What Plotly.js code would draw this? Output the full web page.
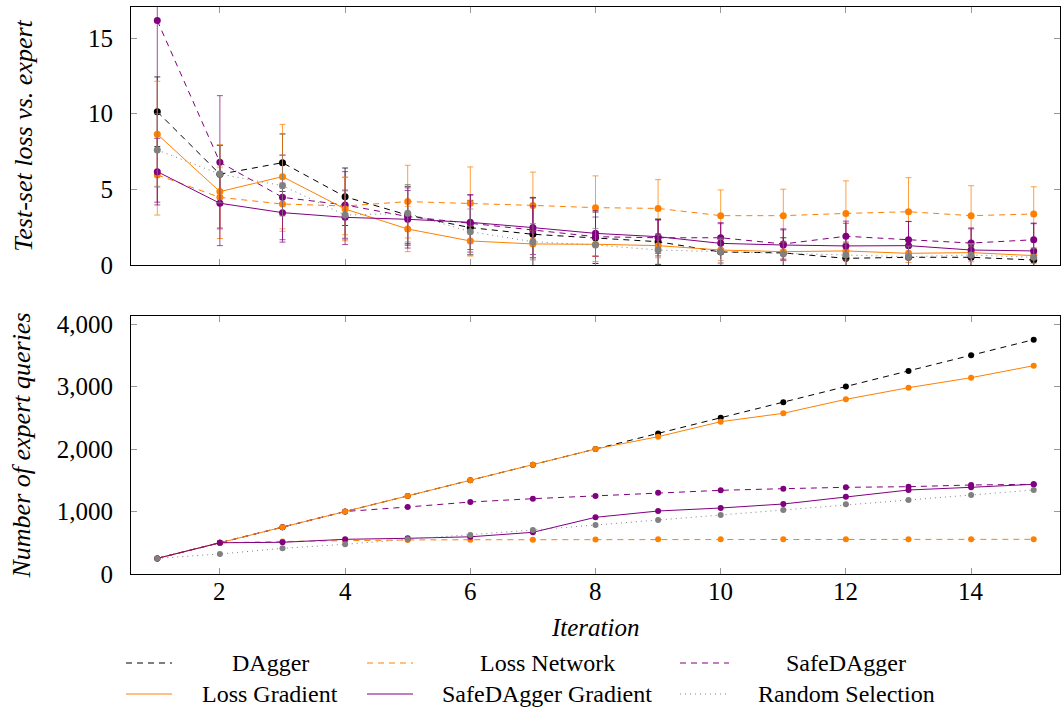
<!DOCTYPE html>
<html>
<head>
<meta charset="utf-8">
<script src="https://cdn.plot.ly/plotly-3.0.1.min.js"></script>
<style>html,body{margin:0;padding:0;background:#fff;}#chart{width:1061px;height:711px;}</style>
</head>
<body>
<div id="chart"></div>
<script>
// ---------- data ----------
const iterations = [1,2,3,4,5,6,7,8,9,10,11,12,13,14,15];
const seriesNames = ["DAgger","Loss Network","SafeDAgger","Loss Gradient","SafeDAgger Gradient","Random Selection"];

// test-set loss vs. expert (top panel)
const daggerLoss      = [10.13,6.00,6.76,4.51,3.30,2.47,2.03,1.80,1.54,0.86,0.80,0.44,0.51,0.51,0.33];
const lossNetworkLoss = [5.95,4.47,4.03,3.90,4.19,4.08,3.94,3.79,3.74,3.26,3.26,3.41,3.52,3.26,3.37];
const safeDaggerLoss  = [16.15,6.79,4.47,3.97,3.20,2.75,2.30,1.87,1.80,1.80,1.39,1.90,1.67,1.45,1.67];
const lossGradLoss    = [8.64,4.85,5.84,3.70,2.38,1.59,1.39,1.37,1.28,0.99,0.88,0.93,0.77,0.82,0.62];
const safeGradLoss    = [6.17,4.08,3.46,3.15,3.02,2.82,2.47,2.09,1.87,1.43,1.32,1.26,1.28,0.99,0.93];
const randomLoss      = [7.60,6.01,5.24,3.30,3.42,2.20,1.54,1.32,0.99,0.88,0.73,0.66,0.55,0.66,0.51];

// error bars (std) for the top panel
const daggerErr      = [2.3,1.9,1.9,1.9,1.9,1.8,2.4,1.7,1.5,1.0,1.0,0.8,0.7,0.7,0.6];
const lossNetworkErr = [2.65,2.0,1.8,1.9,2.4,2.4,2.2,2.1,1.9,1.7,1.75,2.15,2.25,1.98,1.8];
const safeDaggerErr  = [12.0,4.4,2.8,2.2,1.9,1.9,1.6,1.3,1.2,1.0,1.0,1.0,1.2,1.0,1.1];
const lossGradErr    = [3.5,3.1,3.45,2.1,1.5,1.0,0.9,0.8,0.8,0.7,0.6,0.6,0.6,0.6,0.5];
const safeGradErr    = [2.2,2.8,1.95,1.8,1.9,1.8,2.0,1.5,1.1,1.3,1.0,1.5,1.6,1.4,1.8];
const randomErr      = [2.4,1.9,2.0,1.6,1.9,1.5,1.2,1.1,1.0,0.9,0.8,0.8,0.7,0.7,0.6];

// number of expert queries (bottom panel)
const daggerQueries      = [250,500,750,1000,1250,1500,1750,2000,2250,2500,2750,3000,3250,3500,3750];
const lossNetworkQueries = [250,500,520,535,545,548,548,552,555,555,555,555,555,555,555];
const safeDaggerQueries  = [250,500,750,1000,1072,1152,1205,1248,1301,1339,1365,1387,1397,1424,1435];
const lossGradQueries    = [250,500,750,1000,1250,1500,1750,2000,2197,2437,2571,2795,2981,3141,3333];
const safeGradQueries    = [250,500,507,555,571,595,667,907,1008,1056,1120,1237,1344,1387,1435];
const randomQueries      = [250,320,411,475,555,624,704,784,864,944,1024,1115,1184,1264,1344];

const yTopTicks = [0,5,10,15];
const yBottomTicks = [0,1000,2000,3000,4000];
const yBottomLabels = ["0","1,000","2,000","3,000","4,000"];
const xTicks = [2,4,6,8,10,12,14];
const xTitle = "Iteration";

// ---------- styles ----------
const ORANGE = "rgb(255,128,0)", PURPLE = "rgb(128,0,128)", GRAY = "rgb(128,128,128)", BLACK = "rgb(0,0,0)";
const styles = [
  {color: BLACK,  dash: "6px,5px", errc: "rgba(0,0,0,0.75)"},
  {color: ORANGE, dash: "6px,5px", errc: "rgba(255,128,0,0.75)"},
  {color: PURPLE, dash: "6px,5px", errc: "rgba(128,0,128,0.7)"},
  {color: ORANGE, dash: "solid",   errc: "rgba(255,128,0,0.75)"},
  {color: PURPLE, dash: "solid",   errc: "rgba(128,0,128,0.7)"},
  {color: GRAY,   dash: "1px,4px", errc: "rgba(128,128,128,0.75)"}
];
const lossData = [daggerLoss, lossNetworkLoss, safeDaggerLoss, lossGradLoss, safeGradLoss, randomLoss];
const errData  = [daggerErr, lossNetworkErr, safeDaggerErr, lossGradErr, safeGradErr, randomErr];
const queryData = [daggerQueries, lossNetworkQueries, safeDaggerQueries, lossGradQueries, safeGradQueries, randomQueries];

const traces = [];
seriesNames.forEach((name, i) => {
  const s = styles[i];
  traces.push({
    x: iterations, y: lossData[i], name: name, type: "scatter", mode: "lines+markers",
    xaxis: "x", yaxis: "y", showlegend: false,
    line: {color: s.color, width: 1, dash: s.dash},
    marker: {color: s.color, size: 7},
    error_y: {type: "data", array: errData[i], visible: true, color: s.errc, thickness: 1, width: 3}
  });
});
seriesNames.forEach((name, i) => {
  const s = styles[i];
  traces.push({
    x: iterations, y: queryData[i], name: name, type: "scatter", mode: "lines+markers",
    xaxis: "x2", yaxis: "y2", showlegend: false,
    line: {color: s.color, width: 1, dash: s.dash},
    marker: {color: s.color, size: 6}
  });
});

// ---------- layout ----------
const FONT = '"Liberation Serif", "Times New Roman", serif';
const plotL = 131, plotR = 1060, plotT = 7, plotB = 574;
const px2x = p => (p - plotL) / (plotR - plotL);
const px2y = p => (plotB - p) / (plotB - plotT);

const axisCommon = {
  showline: true, linecolor: "#000", linewidth: 1, mirror: "ticks",
  ticks: "inside", ticklen: 6, tickcolor: "#999", tickwidth: 1,
  showgrid: false, zeroline: false, ticklabelstandoff: 12,
  tickfont: {family: FONT, size: 25, color: "#000"}
};

const shapes = [], annotations = [];
// x tick labels of the bottom panel, placed on the library's x2 scale
xTicks.forEach(v => {
  annotations.push({xref: "x2", yref: "paper", x: v, y: px2y(592), text: String(v),
    showarrow: false, xanchor: "center", yanchor: "middle",
    font: {family: FONT, size: 25, color: "#000"}});
});
annotations.push({xref: "paper", yref: "paper", x: 0.5, y: px2y(627), text: "<i>" + xTitle + "</i>",
  showarrow: false, xanchor: "center", yanchor: "middle",
  font: {family: FONT, size: 25, color: "#000"}});

// custom legend (3 columns x 2 rows, centered labels)
const colLine = [[126,172],[367,413],[680,729]];
const colText = [270,547,846];
const rowY = [663,694];
seriesNames.forEach((name, k) => {
  const row = Math.floor(k / 3), col = k % 3;
  const s = styles[k];
  shapes.push({type: "line", xref: "paper", yref: "paper",
    x0: px2x(colLine[col][0]), x1: px2x(colLine[col][1]), y0: px2y(rowY[row]), y1: px2y(rowY[row]),
    line: {color: s.color, width: 1, dash: s.dash}});
  annotations.push({xref: "paper", yref: "paper", x: px2x(colText[col]), y: px2y(rowY[row]),
    text: name, showarrow: false, xanchor: "center", yanchor: "middle",
    font: {family: FONT, size: 24, color: "#000"}});
});

const layout = {
  width: 1061, height: 711,
  margin: {l: plotL, r: 1061 - plotR, t: plotT, b: 711 - plotB},
  paper_bgcolor: "#fff", plot_bgcolor: "#fff",
  font: {family: FONT, size: 24, color: "#000"},
  showlegend: false,
  xaxis: Object.assign({}, axisCommon, {domain: [0,1], anchor: "y", range: [0.58, 15.42],
    tickvals: xTicks, showticklabels: false}),
  yaxis: Object.assign({}, axisCommon, {domain: [px2y(265), 1], anchor: "x", range: [0, 17.05],
    tickvals: yTopTicks, ticktext: yTopTicks.map(String),
    title: {text: "<i>Test-set loss vs. expert</i>", font: {family: FONT, size: 26}, standoff: 47}}),
  xaxis2: Object.assign({}, axisCommon, {domain: [0,1], anchor: "y2", range: [0.58, 15.42],
    tickvals: xTicks, showticklabels: false}),
  yaxis2: Object.assign({}, axisCommon, {domain: [0, px2y(316)], anchor: "x2", range: [0, 4128],
    tickvals: yBottomTicks, ticktext: yBottomLabels,
    title: {text: "<i>Number of expert queries</i>", font: {family: FONT, size: 26}, standoff: 18}}),
  shapes: shapes,
  annotations: annotations
};

Plotly.newPlot("chart", traces, layout, {displayModeBar: false, staticPlot: true});
</script>
</body>
</html>
